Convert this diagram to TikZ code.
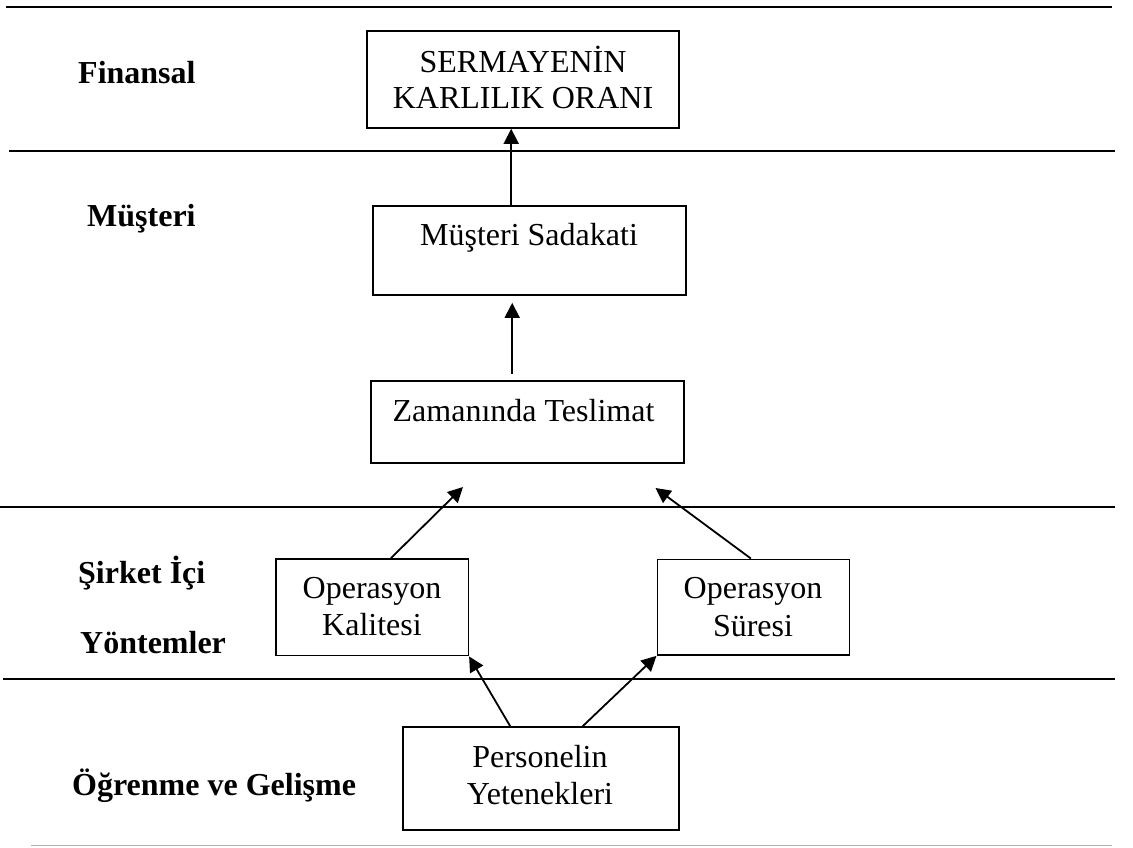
\documentclass[tikz,border=0pt]{standalone}
\usepackage{fontspec}
\setmainfont{Liberation Serif}
\usetikzlibrary{arrows.meta,calc}

\tikzset{
  box/.style={draw=black, line width=1.6pt, rectangle, inner sep=0pt},
  boxtext/.style={anchor=base, inner sep=0pt, font=\fontsize{32}{37}\selectfont},
  rowlabel/.style={anchor=base west, inner sep=0pt, font=\fontsize{32}{37}\selectfont\bfseries},
  arr/.style={line width=1.8pt, -{Triangle[length=15pt,width=15pt]}},
  thickrule/.style={line width=2.6pt},
  thinrule/.style={line width=1.6pt},
  greyrule/.style={line width=1.6pt, draw=black!30}
}

\begin{document}
\begin{tikzpicture}[x=1pt, y=-1pt]
  \useasboundingbox (0,0) rectangle (1133,847);

  % perspective separators
  \draw[thickrule] (6,7) -- (1112,7);
  \draw[thickrule] (9,151) -- (1115,151);
  \draw[thinrule] (0,506.7) -- (1115,506.7);
  \draw[thinrule] (3,679) -- (1115,679);
  \draw[greyrule] (31,845.5) -- (1112,845.5);

  % perspective names
  \node[rowlabel] (lfin) at (78,83) {Finansal};
  \node[rowlabel] (lmus) at (87,226) {Müşteri};
  \node[rowlabel] (lsir) at (78,583) {Şirket İçi};
  \node[rowlabel] (lyon) at (80,653) {Yöntemler};
  \node[rowlabel] (logr) at (72,795) {Öğrenme ve Gelişme};

  % objective boxes
  \node[box, minimum width=312pt, minimum height=97pt] (serm) at (523,79.5) {};
  \node[boxtext] (sermA) at (523,72) {SERMAYENİN};
  \node[boxtext] (sermB) at (523,108) {KARLILIK ORANI};

  \node[box, minimum width=313pt, minimum height=89.3pt] (musb) at (529.5,250.4) {};
  \node[boxtext] (musbt) at (529,245) {Müşteri Sadakati};

  \node[box, minimum width=313pt, minimum height=82pt] (zam) at (527.5,422) {};
  \node[boxtext] (zamt) at (523.5,421) {Zamanında Teslimat};

  \node[box, minimum width=192.6pt, minimum height=96.7pt] (kal) at (372,607.3) {};
  \node[boxtext] (kalA) at (372,598) {Operasyon};
  \node[boxtext] (kalB) at (372,635) {Kalitesi};

  \node[box, minimum width=192pt, minimum height=95.7pt] (sur) at (753.3,607.2) {};
  \node[boxtext] (surA) at (753,598) {Operasyon};
  \node[boxtext] (surB) at (753,636) {Süresi};

  \node[box, minimum width=276pt, minimum height=103pt] (pers) at (541,778.5) {};
  \node[boxtext] (persA) at (540,767) {Personelin};
  \node[boxtext] (persB) at (540,804) {Yetenekleri};

  % free arrow ends below the delivery box
  \coordinate (tipL) at (463,487);
  \coordinate (tipR) at (655.5,488);

  % cause-and-effect links
  \draw[arr] ($(musb.north west)+(139,0)$) -- ($(serm.south west)+(145,0)$);
  \draw[arr] ($(zam.north west)+(142,-6)$) -- ($(musb.south west)+(140,7)$);
  \draw[arr] ($(kal.north west)+(116,0)$) -- (tipL);
  \draw[arr] ($(sur.north west)+(94.4,0)$) -- (tipR);
  \draw[arr] ($(pers.north west)+(108,0)$) -- (kal.south east);
  \draw[arr] ($(pers.north west)+(180.5,0)$) -- (sur.south west);
\end{tikzpicture}
\end{document}
